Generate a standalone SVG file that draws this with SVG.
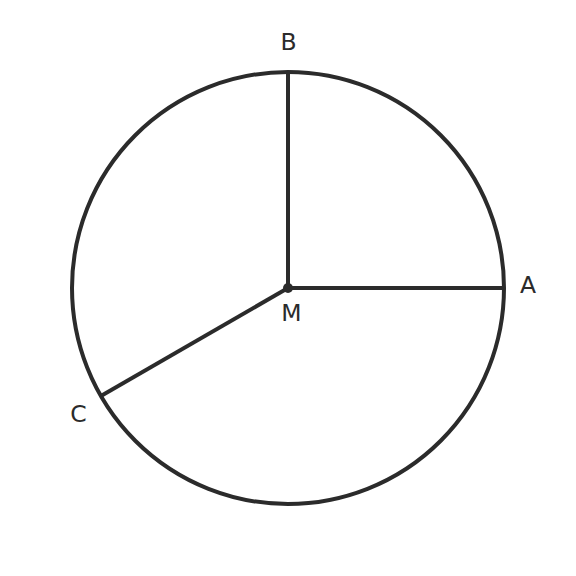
<svg xmlns="http://www.w3.org/2000/svg" width="576" height="576" viewBox="0 0 576 576">
<style>
.ln{stroke:#2b2b2b;stroke-width:4;fill:none;stroke-linecap:butt}
.lb{font-family:"DejaVu Sans","Liberation Sans",sans-serif;font-size:23.5px;fill:#2b2b2b;text-anchor:middle}
</style>
<rect width="576" height="576" fill="#ffffff"/>
<g id="circle"><circle cx="288" cy="288" r="216" class="ln"/></g>
<g id="connectors">
<line x1="288" y1="288" x2="504" y2="288" class="ln"/>
<line x1="288" y1="288" x2="288" y2="72" class="ln"/>
<line x1="288" y1="288" x2="100.9" y2="396" class="ln"/>
</g>
<g id="M"><circle cx="288" cy="288" r="5" fill="#2b2b2b"/><text x="291.5" y="320.7" class="lb">M</text></g>
<g id="A"><text x="528" y="293.3" class="lb">A</text></g>
<g id="B"><text x="288.5" y="50" class="lb">B</text></g>
<g id="C"><text x="78.5" y="422.3" class="lb">C</text></g>
</svg>
